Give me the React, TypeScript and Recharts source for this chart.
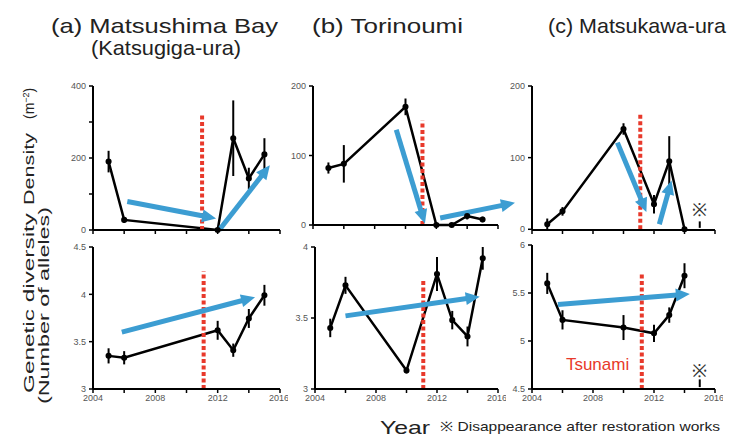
import React from 'react';
import { LineChart, Line, XAxis, YAxis, ErrorBar, ReferenceLine, ReferenceDot } from 'recharts';

const BLUE = '#3c9dd2';
const RED = '#e8392b';
const TICK = '#555';
const FONT = 'Liberation Sans, Arial, sans-serif';

const yearTicks = [2004, 2006, 2008, 2010, 2012, 2014, 2016];

// (a) Matsushima Bay (Katsugiga-ura)
const yearsA = [2005, 2006, 2012, 2013, 2014, 2015];
const densityA = [190, 28, 0, 255, 143, 210];
const densityErrA = [30, 8, 0, 105, 30, 45];
const allelesA = [3.35, 3.33, 3.62, 3.41, 3.745, 3.99];
const allelesErrA = [0.08, 0.07, 0.1, 0.07, 0.1, 0.11];

// (b) Torinoumi
const yearsB = [2005, 2006, 2010, 2012, 2013, 2014, 2015];
const densityB = [82, 88, 170, 0, 0, 13, 8];
const densityErrB = [8, 27, 12, 0, 0, 5, 4];
const allelesB = [3.43, 3.73, 3.13, 3.81, 3.485, 3.37, 3.92];
const allelesErrB = [0.065, 0.06, 0.02, 0.12, 0.065, 0.07, 0.08];

// (c) Matsukawa-ura
const yearsC = [2005, 2006, 2010, 2012, 2013, 2014];
const densityC = [7, 25, 140, 35, 95, 0];
const densityErrC = [8, 6, 8, 13, 35, 0];
const allelesC = [5.6, 5.22, 5.14, 5.08, 5.27, 5.68];
const allelesErrC = [0.11, 0.1, 0.13, 0.09, 0.08, 0.13];

// blue trend arrows: [x1, y1, x2, y2]
const arrowsDensA = [[2006.2, 79, 2011.9, 32], [2012.1, 0, 2015.35, 180]];
const arrowsDensB = [[2009.4, 137, 2011.26, 2], [2012.25, 10, 2017.1, 32]];
const arrowsDensC = [[2009.6, 121, 2011.5, 24], [2012.35, 7, 2013.15, 68]];
const arrowsGenA = [[2005.85, 3.6, 2014.4, 3.97]];
const arrowsGenB = [[2006.0, 3.515, 2014.8, 3.65]];
const arrowsGenC = [[2005.7, 5.38, 2014.35, 5.49]];

// tsunami (dashed red) lines: [year, bottom, top]
const tsunamiDensA = [2011, 0, 325];
const tsunamiDensB = [2011.1, 0, 150];
const tsunamiDensC = [2011.1, 0, 160];
const tsunamiGenA = [2011.1, 3, 4.24];
const tsunamiGenB = [2011.1, 3, 3.77];
const tsunamiGenC = [2011.2, 4.5, 5.72];

type Row = { year: number; v: number; e: number };
const toRows = (years: number[], vals: number[], errs: number[]): Row[] =>
  years.map((year, i) => ({ year, v: vals[i], e: errs[i] }));

const arrowShape = (p: any) => {
  const { x1, y1, x2, y2 } = p;
  const dx = x2 - x1;
  const dy = y2 - y1;
  const len = Math.hypot(dx, dy) || 1;
  const ux = dx / len;
  const uy = dy / len;
  const head = 14;
  const half = 6.5;
  const bx = x2 - ux * head;
  const by = y2 - uy * head;
  const pts = `${x2},${y2} ${bx - uy * half},${by + ux * half} ${bx + uy * half},${by - ux * half}`;
  return (
    <g>
      <line x1={x1} y1={y1} x2={bx + ux} y2={by + uy} stroke={BLUE} strokeWidth={5} />
      <polygon points={pts} fill={BLUE} />
    </g>
  );
};

interface PanelProps {
  left: number;
  right: number;
  top: number;
  bottom: number;
  rows: Row[];
  yDomain: [number, number];
  yTicks: number[];
  yShown: number[];
  yearLabels: boolean;
  arrows: number[][];
  tsunami: number[];
  padRight?: number;
  children?: React.ReactNode;
}

const Panel: React.FC<PanelProps> = ({ left, right, top, bottom, rows, yDomain, yTicks, yShown, yearLabels, arrows, tsunami, padRight = 8, children }) => {
  const padL = 40, padT = 12, padB = 22;
  const w = right - left + padL + padRight;
  const h = bottom - top + padT + padB;
  return (
    <div style={{ position: 'absolute', left: left - padL, top: top - padT, width: w, height: h }}>
      <LineChart width={w} height={h} data={rows} margin={{ top: padT, right: padRight, bottom: 2, left: 0 }}>
        <XAxis
          type="number"
          dataKey="year"
          domain={[2004, 2016]}
          ticks={yearTicks}
          height={20}
          tickSize={4}
          tickMargin={2}
          axisLine={{ stroke: '#000', strokeWidth: 2 }}
          tickLine={{ stroke: '#000', strokeWidth: 1.5 }}
          tick={{ fontSize: 9, fill: TICK, fontFamily: FONT }}
          tickFormatter={(y: number) => (yearLabels && y % 4 === 0 ? String(y) : '')}
        />
        <YAxis
          type="number"
          domain={yDomain}
          ticks={yTicks}
          width={40}
          tickSize={4}
          tickMargin={3}
          axisLine={{ stroke: '#000', strokeWidth: 2 }}
          tickLine={{ stroke: '#000', strokeWidth: 1.5 }}
          tick={{ fontSize: 9, fill: TICK, fontFamily: FONT }}
          tickFormatter={(v: number) => (yShown.includes(v) ? String(v) : '')}
        />
        <Line
          dataKey="v"
          stroke="#000"
          strokeWidth={2.5}
          dot={{ r: 1.8, fill: '#000', stroke: '#000' }}
          isAnimationActive={false}
        >
          <ErrorBar dataKey="e" width={0} stroke="#000" strokeWidth={2} direction="y" />
        </Line>
        <ReferenceLine
          segment={[{ x: tsunami[0], y: tsunami[1] }, { x: tsunami[0], y: tsunami[2] }]}
          stroke={RED}
          strokeWidth={4}
          strokeDasharray="4 2.5"
          ifOverflow="visible"
        />
        {arrows.map((a, i) => (
          <ReferenceLine
            key={i}
            segment={[{ x: a[0], y: a[1] }, { x: a[2], y: a[3] }]}
            ifOverflow="visible"
            shape={arrowShape}
          />
        ))}
        {children}
      </LineChart>
    </div>
  );
};

export default function App() {
  return (
    <div style={{ position: 'absolute', left: 0, top: 0, width: 730, height: 439, background: '#fff', overflow: 'hidden' }}>
      <svg width={730} height={439} style={{ position: 'absolute', left: 0, top: 0 }} fontFamily={FONT} fill="#222">
        <text x={51} y={33} fontSize={21} textLength={227} lengthAdjust="spacingAndGlyphs">(a) Matsushima Bay</text>
        <text x={91} y={55} fontSize={21} textLength={150} lengthAdjust="spacingAndGlyphs">(Katsugiga-ura)</text>
        <text x={312} y={33} fontSize={21} textLength={151} lengthAdjust="spacingAndGlyphs">(b) Torinoumi</text>
        <text x={548} y={33} fontSize={21} textLength={178} lengthAdjust="spacingAndGlyphs">(c) Matsukawa-ura</text>
        <text transform="translate(34,205) rotate(-90)" fontSize={14} textLength={72} lengthAdjust="spacingAndGlyphs">Density</text>
        <text transform="translate(34,119) rotate(-90)" fontSize={14}>(m<tspan dy={-5} fontSize={9}>−2</tspan><tspan dy={5}>)</tspan></text>
        <text transform="translate(34,393) rotate(-90)" fontSize={14} textLength={180} lengthAdjust="spacingAndGlyphs">Genetic diversity</text>
        <text transform="translate(49,404) rotate(-90)" fontSize={14} textLength={197} lengthAdjust="spacingAndGlyphs">(Number of alleles)</text>
        <text x={380} y={434} fontSize={19} textLength={50} lengthAdjust="spacingAndGlyphs">Year</text>
        <text x={440} y={431} fontSize={13} textLength={280} lengthAdjust="spacingAndGlyphs">※ Disappearance after restoration works</text>
      </svg>

      <Panel left={93} right={280} top={86} bottom={230} rows={toRows(yearsA, densityA, densityErrA)}
        yDomain={[0, 400]} yTicks={[0, 100, 200, 300, 400]} yShown={[0, 200, 400]} yearLabels={false}
        arrows={arrowsDensA} tsunami={tsunamiDensA} />
      <Panel left={313} right={498} top={86} bottom={225} rows={toRows(yearsB, densityB, densityErrB)}
        yDomain={[0, 200]} yTicks={[0, 100, 200]} yShown={[0, 100, 200]} yearLabels={false}
        arrows={arrowsDensB} tsunami={tsunamiDensB} padRight={24} />
      <Panel left={532} right={715} top={86} bottom={230} rows={toRows(yearsC, densityC, densityErrC)}
        yDomain={[0, 200]} yTicks={[0, 100, 200]} yShown={[0, 100, 200]} yearLabels={false}
        arrows={arrowsDensC} tsunami={tsunamiDensC}>
        <ReferenceLine segment={[{ x: 2015, y: 2 }, { x: 2015, y: 11 }]} stroke="#000" strokeWidth={2} ifOverflow="visible" />
        <ReferenceDot x={2015} y={27} r={0} ifOverflow="visible" label={{ value: '※', position: 'center', fontSize: 18, fill: '#333', fontFamily: FONT }} />
      </Panel>

      <Panel left={93} right={280} top={247} bottom={389} rows={toRows(yearsA, allelesA, allelesErrA)}
        yDomain={[3, 4.5]} yTicks={[3, 3.5, 4, 4.5]} yShown={[3, 3.5, 4, 4.5]} yearLabels
        arrows={arrowsGenA} tsunami={tsunamiGenA} />
      <Panel left={315} right={498} top={247} bottom={389} rows={toRows(yearsB, allelesB, allelesErrB)}
        yDomain={[3, 4]} yTicks={[3, 3.5, 4]} yShown={[3, 3.5, 4]} yearLabels
        arrows={arrowsGenB} tsunami={tsunamiGenB} />
      <Panel left={532} right={715} top={245} bottom={389} rows={toRows(yearsC, allelesC, allelesErrC)}
        yDomain={[4.5, 6]} yTicks={[4.5, 5, 5.5, 6]} yShown={[4.5, 5, 5.5, 6]} yearLabels
        arrows={arrowsGenC} tsunami={tsunamiGenC}>
        <ReferenceLine segment={[{ x: 2015, y: 4.52 }, { x: 2015, y: 4.6 }]} stroke="#000" strokeWidth={2} ifOverflow="visible" />
        <ReferenceDot x={2015} y={4.69} r={0} ifOverflow="visible" label={{ value: '※', position: 'center', fontSize: 18, fill: '#333', fontFamily: FONT }} />
        <ReferenceDot x={2008.3} y={4.76} r={0} ifOverflow="visible" label={{ value: 'Tsunami', position: 'center', fontSize: 17, fill: RED, fontFamily: FONT }} />
      </Panel>
    </div>
  );
}
